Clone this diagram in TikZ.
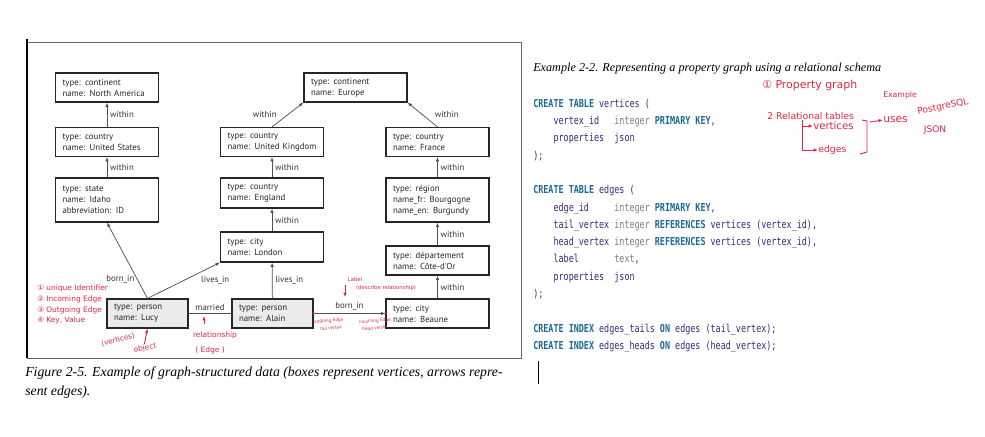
\documentclass[tikz,border=0pt]{standalone}
\usepackage{fontspec}
\setmainfont{Liberation Serif}
\newfontfamily\graphfont{PT Sans}
\newfontfamily\codefont[FakeStretch=0.77]{DejaVu Sans Mono}
\newfontfamily\handfont{DejaVu Sans}
\usetikzlibrary{arrows.meta}

\definecolor{kwblue}{RGB}{28,104,150}
\definecolor{idblue}{RGB}{52,42,128}
\definecolor{tygray}{RGB}{125,125,125}
\definecolor{pengray}{RGB}{80,80,80}
\definecolor{inkred}{RGB}{226,38,68}
\definecolor{boxgray}{RGB}{235,235,235}

\newcommand{\kw}[1]{{\bfseries\color{kwblue}#1}}
\newcommand{\ty}[1]{{\color{tygray}#1}}
\newcommand{\hand}[1]{\handfont\fontsize{#1}{#1}\selectfont}

\begin{document}
\begin{tikzpicture}[x=0.75pt,y=-0.75pt,>={Latex[length=3.2pt,width=2.6pt]}]
  \tikzstyle{place}=[draw=black!85,line width=0.9pt,rectangle,inner xsep=5.25pt,inner ysep=2pt,text width=66.75pt,minimum height=21.75pt,align=left,text=black!85,font=\graphfont\fontsize{6.6}{8.25}\selectfont]
  \tikzstyle{person}=[place,fill=boxgray,text width=50.25pt]
  \tikzstyle{rel}=[draw=pengray,line width=0.55pt]
  \tikzstyle{lbl}=[text=black!80,font=\graphfont\fontsize{6.6}{8}\selectfont,inner sep=2pt]
  \tikzstyle{capt}=[inner sep=0pt,font=\itshape\fontsize{10.35}{12}\selectfont]
  \tikzstyle{ink}=[text=inkred,inner sep=0pt]
  \tikzstyle{inkline}=[draw=inkred,line width=0.7pt]
  \useasboundingbox (0,0) rectangle (985,436);
  % frame of the figure
  \draw[black!60,line width=0.6pt] (27,42) rectangle (521,358);
  \draw[black,line width=1.2pt] (27,39) -- (27,358);
  % vertices
  \node[place] (na) at (107,87.5) {type: continent\\name: North America};
  \node[place] (eu) at (355.5,87.5) {type: continent\\name: Europe};
  \node[place] (us) at (107,142) {type: country\\name: United States};
  \node[place] (uk) at (272,142) {type: country\\name: United Kingdom};
  \node[place] (fr) at (437.5,142) {type: country\\name: France};
  \node[place,minimum height=33pt] (id) at (107,200) {type: state\\name: Idaho\\abbreviation: ID};
  \node[place,minimum height=22.5pt] (en) at (272,193) {type: country\\name: England};
  \node[place,minimum height=33pt] (re) at (437.5,200) {type: région\\name\_fr: Bourgogne\\name\_en: Burgundy};
  \node[place,minimum height=22.5pt] (lo) at (272,247) {type: city\\name: London};
  \node[place] (de) at (437.5,260.5) {type: département\\name: Côte-d'Or};
  \node[person] (lu) at (147.5,313.5) {type: person\\name: Lucy};
  \node[person] (al) at (272.5,313.5) {type: person\\name: Alain};
  \node[place] (be) at (437.5,313.5) {type: city\\name: Beaune};
  % edges
  \draw[rel,->] (us) -- node[lbl,right]{within} (na);
  \draw[rel,->] (id) -- node[lbl,right]{within} (us);
  \draw[rel,->] (uk.north) -- node[lbl,left=6pt]{within} (eu.south west);
  \draw[rel,->] (fr.north) -- node[lbl,right=7pt]{within} (eu.south east);
  \draw[rel,->] (en) -- node[lbl,right]{within} (uk);
  \draw[rel,->] (re) -- node[lbl,right]{within} (fr);
  \draw[rel,->] (lo) -- node[lbl,right]{within} (en);
  \draw[rel,->] (de) -- node[lbl,right]{within} (re);
  \draw[rel,->] (be) -- node[lbl,right]{within} (de);
  \draw[rel,->] (lu.north) -- node[lbl,left,pos=.25]{born\_in} (id.south);
  \draw[rel,->] (lu.north) -- node[lbl,below right,pos=.7]{lives\_in} (lo.south west);
  \draw[rel,->] (al) -- node[lbl,right]{lives\_in} (lo);
  \draw[rel] (lu) -- node[lbl,above]{married} (al);
  \draw[rel,->] (al) -- node[lbl,above]{born\_in} (be);
  % captions
  \node[capt,anchor=base west] (fig) at (25,376) {Figure 2-5. Example of graph-structured data (boxes represent vertices, arrows repre-};
  \node[capt,anchor=base west] (fig2) at (25,395) {sent edges).};
  \node[capt,anchor=base west,font=\itshape\fontsize{9.15}{11}\selectfont] (exm) at (533,71) {Example 2-2. Representing a property graph using a relational schema};
  % relational schema
  \node[anchor=north west,inner sep=0pt,align=left,text=idblue,font=\codefont\fontsize{8.2}{12.975}\selectfont] (sql) at (533,98.7) {%
    \kw{CREATE TABLE} vertices (\\
    ~~~~vertex\_id~~~\ty{integer} \kw{PRIMARY KEY},\\
    ~~~~properties~~json\\
    );\\
    \mbox{}\\
    \kw{CREATE TABLE} edges (\\
    ~~~~edge\_id~~~~~\ty{integer} \kw{PRIMARY KEY},\\
    ~~~~tail\_vertex \ty{integer} \kw{REFERENCES} vertices (vertex\_id),\\
    ~~~~head\_vertex \ty{integer} \kw{REFERENCES} vertices (vertex\_id),\\
    ~~~~label~~~~~~~\ty{text},\\
    ~~~~properties~~json\\
    );\\
    \mbox{}\\
    \kw{CREATE INDEX} edges\_tails \kw{ON} edges (tail\_vertex);\\
    \kw{CREATE INDEX} edges\_heads \kw{ON} edges (head\_vertex);};
  \draw[line width=0.6pt] (538,361) -- (538,384);
  % notes by hand, left
  \node[ink,anchor=west,font=\hand{5.6}] (n1) at (37,288) {① unique Identifier};
  \node[ink,anchor=west,font=\hand{5.6}] (n2) at (37,299) {② Incoming Edge};
  \node[ink,anchor=west,font=\hand{5.6}] (n3) at (37,310) {③ Outgoing Edge};
  \node[ink,anchor=west,font=\hand{5.6}] (n4) at (37,320) {④ Key, Value};
  \node[ink,rotate=15,font=\hand{5.4}] (vrt) at (118,340) {(vertices)};
  \node[ink,rotate=10,font=\hand{5.6}] (obj) at (145,348) {object};
  \draw[inkline,->] (obj.north) -- (lu.south);
  \node[ink,font=\hand{5.6}] (rls) at (215,335) {relationship};
  \node[ink,font=\hand{5.6}] (edg) at (210,350) {( Edge )};
  \coordinate (mtail) at (204,324);
  \coordinate (mtip) at (204,316);
  \draw[inkline,->] (mtail) -- (mtip);
  \node[ink,font=\hand{4}] (lab) at (355,280) {Label};
  \node[ink,font=\hand{4}] (dsc) at (386,288) {(describe relationship)};
  \coordinate (ltail) at (345,285);
  \coordinate (ltip) at (345,297);
  \draw[inkline,->] (ltail) -- (ltip);
  \node[ink,rotate=5,font=\hand{3.2}] (out) at (328,321) {outgoing Edge};
  \node[ink,rotate=5,font=\hand{3.2}] (tlv) at (331,328) {tail vertex};
  \node[ink,rotate=5,font=\hand{3.2}] (inc) at (375,321) {incoming Edge};
  \node[ink,rotate=5,font=\hand{3.2}] (hdv) at (375,328) {head vertex};
  \fill[inkred] (al.east) circle (1pt);
  \fill[inkred] (be.west) circle (1pt);
  % notes by hand, right
  \node[ink,anchor=west,font=\hand{8.2}] (pg) at (762,85) {① Property graph};
  \node[ink,anchor=west,font=\hand{5.8}] (exa) at (883,95) {Example};
  \node[ink,anchor=west,font=\hand{7}] (rt) at (767,116) {2 Relational tables};
  \node[ink,anchor=west,font=\hand{7.6}] (vtx) at (813,126) {vertices};
  \node[ink,anchor=west,font=\hand{7}] (egs) at (818,150) {edges};
  \coordinate (hook) at (802,120);
  \draw[inkline,->] (hook) |- (vtx.west);
  \draw[inkline,->] (hook) |- (egs.west);
  \draw[inkline] (862,120) -- (867,121) -- (867,152) -- (860,154);
  \coordinate (brk) at (870,122);
  \node[ink,anchor=west,font=\hand{8}] (use) at (883,120) {uses};
  \draw[inkline,->] (brk) -- (use.west);
  \node[ink,rotate=12,font=\hand{6.8}] (psql) at (943,107) {PostgreSQL};
  \node[ink,font=\hand{6.8}] (jsn) at (935,130) {JSON};
\end{tikzpicture}
\end{document}
